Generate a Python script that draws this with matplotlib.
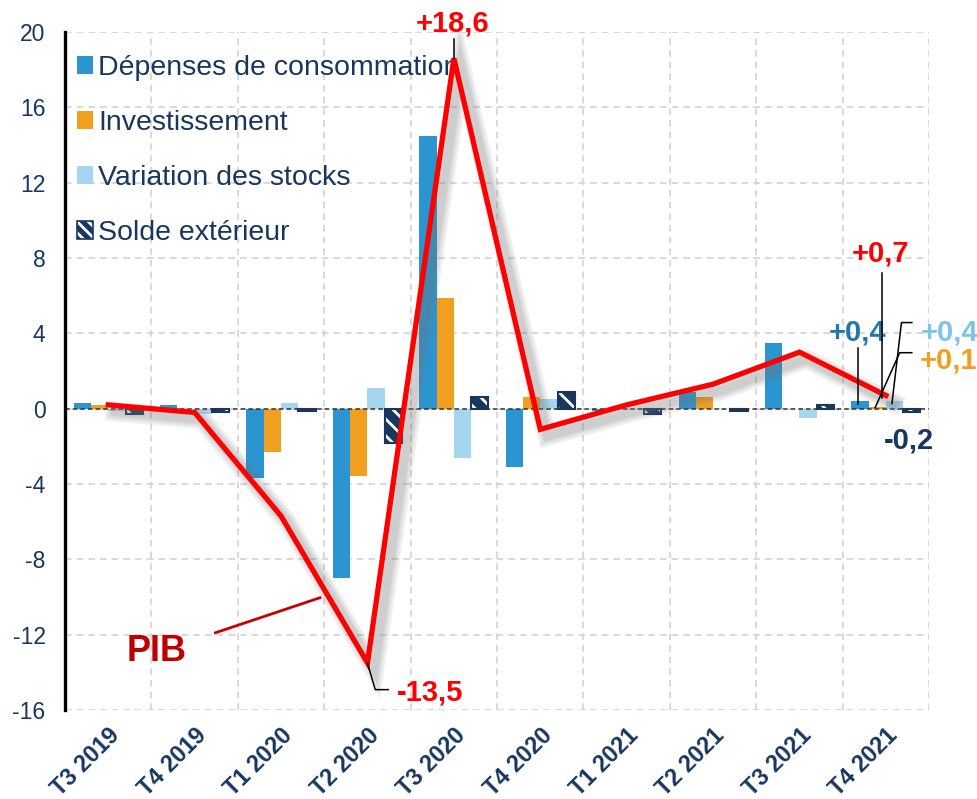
import matplotlib
matplotlib.use("Agg")
import matplotlib.pyplot as plt
import matplotlib.patheffects as pe
import matplotlib.transforms as mtransforms
from matplotlib.patches import Patch
from matplotlib.legend_handler import HandlerTuple
import numpy as np

quarters = ['T3 2019', 'T4 2019', 'T1 2020', 'T2 2020', 'T3 2020',
            'T4 2020', 'T1 2021', 'T2 2021', 'T3 2021', 'T4 2021']
consommation = [0.3, 0.2, -3.7, -9.0, 14.5, -3.1, -0.1, 0.9, 3.5, 0.4]
investissement = [0.2, 0.0, -2.3, -3.6, 5.9, 0.6, 0.0, 0.6, 0.0, 0.1]
stocks = [-0.1, -0.3, 0.3, 1.1, -2.6, 0.5, 0.0, 0.0, -0.5, 0.4]
solde = [-0.3, -0.2, -0.1, -1.8, 0.6, 0.9, -0.3, -0.1, 0.2, -0.2]
pib = [0.2, -0.2, -5.7, -13.5, 18.6, -1.1, 0.2, 1.3, 3.0, 0.7]
yticks = [-16, -12, -8, -4, 0, 4, 8, 12, 16, 20]

NAVY = '#17375E'
C_CONS = '#2B95D1'
C_INV = '#F0A01E'
C_STK = '#A6D5EF'
RED = '#FF0000'

plt.rcParams['font.family'] = ['Liberation Sans', 'DejaVu Sans']
plt.rcParams['hatch.color'] = 'white'
plt.rcParams['hatch.linewidth'] = 2.0

fig = plt.figure(figsize=(9.78, 7.99), dpi=100)
ax = fig.add_axes([0.0665, 0.1114, 0.8835, 0.8486])

x = np.arange(len(quarters))
w = 0.2
ax.bar(x - 0.3, consommation, w, color=C_CONS, zorder=3)
ax.bar(x - 0.1, investissement, w, color=C_INV, zorder=3)
ax.bar(x + 0.1, stocks, w, color=C_STK, zorder=3)
ax.bar(x + 0.3, solde, w, color=NAVY, edgecolor='white', linewidth=0,
       hatch='\\\\', zorder=3)
ax.bar(x + 0.3, solde, w, fill=False, edgecolor=NAVY, linewidth=1.5, zorder=3)

ax.axhline(0, color='#333333', lw=1.1, ls=(0, (3, 2)), zorder=4)

shadows = [pe.SimpleLineShadow(offset=(5, -5), shadow_color='#777777', alpha=0.10, linewidth=lw)
           for lw in (14, 11, 8, 6)]
ax.plot(x, pib, color=RED, lw=3.8, zorder=6, solid_joinstyle='miter',
        path_effects=shadows + [pe.Normal()])

ax.set_xlim(-0.5, len(quarters) - 0.5)
ax.set_ylim(-16, 20)
ax.set_yticks(yticks)
ax.set_yticklabels([str(v) for v in yticks], color=NAVY, fontsize=16.5)
ax.set_xticks(x)
ax.set_xticklabels(quarters, rotation=45, ha='right', rotation_mode='anchor',
                   color=NAVY, fontsize=16.8, fontweight='bold')
offset = mtransforms.ScaledTranslation(-6 / 100, -3 / 100, fig.dpi_scale_trans)
for lab in ax.get_xticklabels():
    lab.set_transform(lab.get_transform() + offset)
ax.set_xticks(np.arange(-0.5, len(quarters), 1), minor=True)
ax.tick_params(axis='both', which='both', length=0)
ax.tick_params(axis='y', pad=14)
ax.tick_params(axis='x', pad=10)
ax.grid(True, axis='y', which='major', color='#D3D3D3', ls=(0, (4, 3)), lw=1.2, zorder=0)
ax.grid(True, axis='x', which='minor', color='#D3D3D3', ls=(0, (4, 3)), lw=1.2, zorder=0)
for s in ['top', 'right', 'bottom']:
    ax.spines[s].set_visible(False)
ax.spines['left'].set_linewidth(2.4)
ax.spines['left'].set_color('black')
ax.spines['left'].set_zorder(7)

# legend
h1 = Patch(facecolor=C_CONS)
h2 = Patch(facecolor=C_INV)
h3 = Patch(facecolor=C_STK)
h4 = (Patch(facecolor=NAVY, edgecolor='white', linewidth=0, hatch='\\\\\\'),
      Patch(fill=False, edgecolor=NAVY, linewidth=1.2))
leg = ax.legend([h1, h2, h3, h4],
                ['Dépenses de consommation', 'Investissement',
                 'Variation des stocks', 'Solde extérieur'],
                handler_map={tuple: HandlerTuple(ndivide=1)},
                loc='upper left', bbox_to_anchor=(0.014, 0.966), frameon=False,
                fontsize=20.5, labelcolor=NAVY, handlelength=0.55, handleheight=0.55,
                handletextpad=0.2, labelspacing=1.02, borderpad=0, borderaxespad=0)
leg.set_zorder(5)

# annotations
bold = dict(fontweight='bold', fontsize=21, ha='center', va='center', annotation_clip=False)
lk = dict(color='black', lw=1.1, clip_on=False, zorder=8)

ax.annotate('+18,6', (3.98, 20.45), color=RED, **bold)
ax.plot([4.0, 4.0], [19.6, pib[4]], **lk)

ax.annotate('-13,5', (3.72, -15.08), color=RED, **bold)
ax.plot([3.0, 3.09, 3.24], [pib[3], -14.92, -14.92], **lk)

ax.annotate('PIB', (0.56, -12.9), color='#C00000', fontweight='bold', fontsize=26,
            ha='center', va='center')
ax.plot([1.24, 2.45], [-11.9, -10.04], color='#C80000', lw=2.0, zorder=5)

ax.annotate('+0,7', (8.94, 8.23), color=RED, **bold)
ax.plot([8.96, 8.96], [7.22, 0.58], **lk)

ax.annotate('+0,4', (8.67, 4.04), color='#1F77AE', **bold)
ax.plot([8.68, 8.68], [3.24, 0.27], **lk)

ax.annotate('+0,4', (9.74, 4.04), color='#7EC4EA', **bold)
ax.plot([9.30, 9.18, 9.07], [4.57, 4.57, 0.27], **lk)

ax.annotate('+0,1', (9.72, 2.55), color=C_INV, **bold)
ax.plot([9.30, 9.16, 8.875], [2.97, 2.97, 0.05], **lk)

ax.annotate('-0,2', (9.27, -1.7), color=NAVY, **bold)

fig.savefig('out.png', dpi=100)
